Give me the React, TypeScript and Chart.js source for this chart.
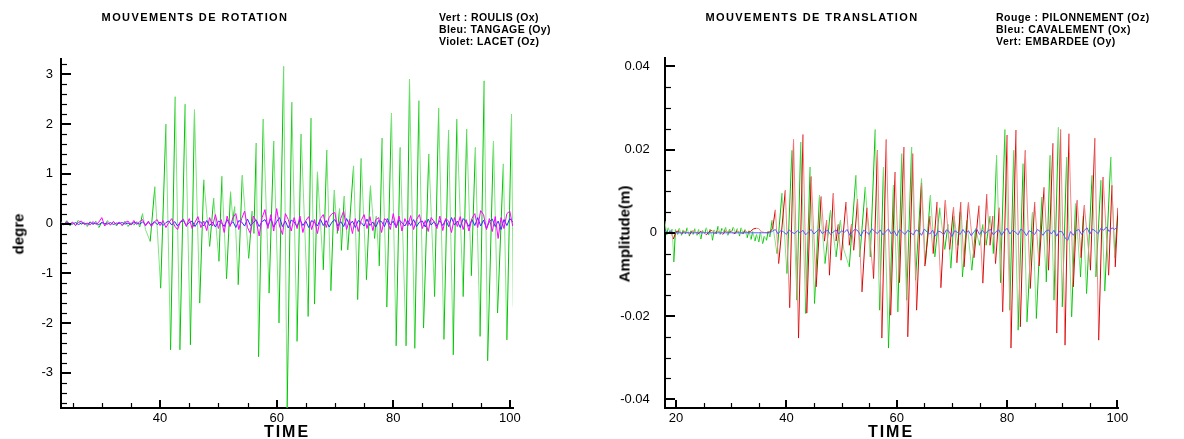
import React, { useEffect, useRef } from 'react';
import { Chart, registerables } from 'chart.js';

Chart.register(...registerables);

// ---------------- LEFT PANEL: MOUVEMENTS DE ROTATION ----------------
const rotXMajor = [40, 60, 80, 100];
const rotXMinor = [25, 30, 35, 45, 50, 55, 65, 70, 75, 85, 90, 95];
const rotYMajor = [-3, -2, -1, 0, 1, 2, 3];
const rotYMinor = [-3.6, -3.4, -3.2, -2.8, -2.6, -2.4, -2.2, -1.8, -1.6, -1.4, -1.2, -0.8, -0.6, -0.4, -0.2,
  0.2, 0.4, 0.6, 0.8, 1.2, 1.4, 1.6, 1.8, 2.2, 2.4, 2.6, 2.8, 3.2];

// Vert : ROULIS (Ox)
const roulisT = [23, 23.5, 24, 24.5, 25, 25.5, 26, 26.5, 27, 27.5, 28, 28.5, 29, 29.5, 30, 30.5, 31, 31.5, 32, 32.5,
  33, 33.5, 34, 34.5, 35, 35.5, 36, 36.5, 37, 37.5,
  38.3, 39.1, 40.1, 41.0, 41.8, 42.6, 43.4, 44.3, 45.2, 45.9, 46.8, 47.5, 48.5, 49.2, 50.1, 50.6, 51.4, 52.1, 52.5, 52.8,
  53.4, 54.1, 55.2, 55.8, 56.1, 56.5, 56.9, 57.7, 58.7, 59.5, 60.4, 61.2, 61.8, 62.6, 63.5, 64.2, 65.4, 65.9, 66.5, 67.0,
  68.0, 68.6, 69.3, 69.9, 70.4, 70.8, 71.1, 71.6, 72.2, 73.2, 73.9, 74.5, 75.4, 76.1, 76.8, 77.1, 77.6, 78.1, 78.9, 79.7,
  80.5, 81.2, 82.2, 82.8, 83.7, 84.4, 85.2, 86.1, 87.1, 87.8, 88.7, 89.5, 90.3, 90.9, 92.0, 92.6, 93.4, 94.1, 94.9, 95.6,
  96.2, 97.2, 97.9, 98.9, 99.5, 100.3, 100.6];
const roulisV = [0.04, -0.03, 0.06, -0.05, 0.02, -0.04, 0.07, -0.02, 0.03, -0.06, 0.04, -0.02, 0.05, -0.08, 0.03, -0.03, 0.06, -0.02, 0.04, -0.05,
  0.03, -0.04, 0.05, -0.06, 0.02, -0.03, 0.04, -0.07, 0.2, -0.12,
  -0.36, 0.74, -1.3, 2.0, -2.54, 2.55, -2.54, 2.4, -2.44, 2.29, -1.6, 0.88, -0.46, 0.51, -0.76, 0.95, -1.11, 0.64, 0.05, 0.34,
  -1.23, 0.97, -0.7, 0.25, -0.2, 1.62, -2.68, 2.1, -1.4, 1.66, -2.0, 3.16, -3.75, 2.44, -2.37, 1.8, -1.87, 2.12, -1.62, 1.04,
  -0.93, 1.48, -1.35, 0.67, -0.2, 0.3, -0.54, 0.55, -0.53, 1.16, -1.53, 1.31, -1.13, 0.76, -0.3, 0.15, -0.85, 1.72, -1.68, 2.22,
  -2.46, 1.53, -2.46, 2.9, -2.51, 2.47, -2.1, 1.4, -1.47, 2.32, -2.33, 1.88, -2.64, 2.1, -1.47, 1.9, -1.05, 1.53, -2.27, 2.87,
  -2.76, 1.66, -1.8, 1.2, -2.34, 2.2, -1.67];

// Bleu: TANGAGE (Oy) and Violet: LACET (Oz), sampled every half second
const rotNoiseT = [23, 23.5, 24, 24.5, 25, 25.5, 26, 26.5, 27, 27.5,
  28, 28.5, 29, 29.5, 30, 30.5, 31, 31.5, 32, 32.5,
  33, 33.5, 34, 34.5, 35, 35.5, 36, 36.5, 37, 37.5,
  38, 38.5, 39, 39.5, 40, 40.5, 41, 41.5, 42, 42.5,
  43, 43.5, 44, 44.5, 45, 45.5, 46, 46.5, 47, 47.5,
  48, 48.5, 49, 49.5, 50, 50.5, 51, 51.5, 52, 52.5,
  53, 53.5, 54, 54.5, 55, 55.5, 56, 56.5, 57, 57.5,
  58, 58.5, 59, 59.5, 60, 60.5, 61, 61.5, 62, 62.5,
  63, 63.5, 64, 64.5, 65, 65.5, 66, 66.5, 67, 67.5,
  68, 68.5, 69, 69.5, 70, 70.5, 71, 71.5, 72, 72.5,
  73, 73.5, 74, 74.5, 75, 75.5, 76, 76.5, 77, 77.5,
  78, 78.5, 79, 79.5, 80, 80.5, 81, 81.5, 82, 82.5,
  83, 83.5, 84, 84.5, 85, 85.5, 86, 86.5, 87, 87.5,
  88, 88.5, 89, 89.5, 90, 90.5, 91, 91.5, 92, 92.5,
  93, 93.5, 94, 94.5, 95, 95.5, 96, 96.5, 97, 97.5,
  98, 98.5, 99, 99.5, 100, 100.5];
const tangageV = [0.01, -0.02, 0.02, 0.0, -0.01, 0.02, -0.02, 0.01, 0.0, -0.01,
  0.02, -0.01, 0.01, -0.02, 0.02, 0.0, -0.01, 0.02, -0.02, 0.01,
  0.0, 0.02, -0.01, 0.01, -0.02, 0.02, 0.01, -0.01, 0.03, -0.02,
  0.02, -0.03, 0.04, -0.02, 0.03, -0.04, 0.02, 0.05, -0.03, 0.04,
  -0.05, 0.03, 0.06, -0.04, 0.02, 0.05, -0.06, 0.04, 0.03, -0.05,
  0.06, -0.04, 0.03, -0.07, 0.05, 0.02, -0.06, 0.08, -0.03, 0.04,
  -0.08, 0.06, 0.03, -0.05, 0.09, -0.04, 0.02, 0.07, -0.06, 0.04,
  0.08, -0.05, 0.1, -0.07, 0.04, 0.12, -0.06, 0.05, -0.09, 0.07,
  0.03, -0.06, 0.08, -0.04, 0.05, -0.08, 0.06, 0.02, -0.05, 0.09,
  -0.04, 0.06, -0.07, 0.03, 0.08, -0.05, 0.04, -0.06, 0.1, -0.03,
  0.05, -0.08, 0.06, 0.02, -0.05, 0.09, -0.04, 0.03, -0.07, 0.06,
  0.04, -0.06, 0.1, -0.03, 0.05, -0.08, 0.07, 0.02, -0.05, 0.06,
  -0.04, 0.08, -0.06, 0.03, 0.05, -0.07, 0.09, -0.03, 0.04, -0.05,
  0.06, -0.04, 0.08, -0.06, 0.12, -0.03, 0.05, -0.08, 0.1, 0.04,
  -0.06, 0.08, -0.04, 0.12, -0.05, 0.07, -0.1, 0.04, 0.09, -0.06,
  0.05, -0.12, 0.08, -0.04, 0.1, 0.03];
const lacetV = [0.02, -0.03, 0.04, -0.01, 0.03, -0.04, 0.02, 0.05, -0.02, 0.01,
  -0.03, 0.04, -0.02, 0.03, 0.12, -0.05, 0.02, -0.03, 0.04, -0.02,
  0.03, -0.04, 0.02, 0.05, -0.03, 0.06, -0.02, 0.04, 0.08, -0.05,
  0.05, -0.06, 0.03, 0.08, -0.04, 0.06, -0.08, 0.02, 0.1, -0.05,
  -0.12, 0.04, 0.09, -0.06, 0.1, -0.1, 0.03, 0.14, -0.08, 0.05,
  -0.14, 0.12, -0.05, 0.18, -0.1, 0.08, -0.18, 0.15, -0.06, 0.12,
  0.2, -0.12, 0.1, 0.25, -0.08, -0.2, 0.15, 0.05, -0.25, 0.12,
  0.28, -0.1, 0.18, -0.15, 0.3, -0.05, -0.22, 0.2, 0.08, -0.15,
  0.12, -0.1, 0.15, -0.18, 0.06, 0.14, -0.12, 0.08, -0.2, 0.1,
  0.18, -0.08, 0.12, 0.2, 0.22, -0.15, 0.1, 0.25, -0.12, 0.08,
  -0.2, 0.1, -0.16, 0.06, 0.18, -0.1, 0.14, -0.14, 0.08, 0.12,
  -0.18, 0.1, 0.05, -0.12, 0.2, -0.08, 0.15, -0.15, 0.1, -0.05,
  0.16, -0.12, 0.08, 0.18, -0.1, 0.06, -0.16, 0.12, 0.04, -0.1,
  0.15, -0.14, 0.1, 0.05, -0.18, 0.12, -0.06, 0.14, -0.12, 0.08,
  -0.15, 0.1, 0.2, -0.08, 0.26, 0.18, -0.12, 0.1, -0.16, 0.14,
  -0.3, 0.12, -0.1, 0.2, 0.25, -0.05];

// ---------------- RIGHT PANEL: MOUVEMENTS DE TRANSLATION ----------------
const traXMajor = [20, 40, 60, 80, 100];
const traXMinor = [25, 30, 35, 45, 50, 55, 65, 70, 75, 85, 90, 95];
const traYMajor = [-0.04, -0.02, 0, 0.02, 0.04];
const traYMinor = [-0.035, -0.03, -0.025, -0.015, -0.01, -0.005, 0.005, 0.01, 0.015, 0.025, 0.03, 0.035];

// Rouge : PILONNEMENT (Oz)
const pilonT = [18, 18.5, 19, 19.5, 20, 20.5, 21, 21.5, 22, 22.5, 23, 23.5, 24, 24.5, 25, 25.5, 26, 26.5, 27, 27.5,
  28, 28.5, 29, 29.5, 30, 30.5, 31, 31.5, 32, 32.5, 33, 33.5, 34, 34.5, 35, 35.5, 36, 36.5, 37, 37.5,
  38.0, 38.6, 39.8, 40.6, 41.3, 42.2, 43.0, 43.7, 44.5, 45.4, 46.3, 46.9, 47.3, 47.8, 48.5, 49.0, 49.4, 49.9, 50.8, 51.4,
  51.8, 52.2, 52.9, 53.7, 54.6, 55.8, 56.5, 57.3, 58.1, 58.9, 59.7, 60.5, 61.3, 62.0, 62.9, 63.6, 64.5, 65.1, 66.0, 66.6,
  67.3, 68.0, 68.8, 69.6, 70.3, 70.9, 71.6, 72.2, 73.0, 74.0, 74.9, 75.6, 76.3, 76.9, 77.4, 77.9, 78.6, 79.2, 80.0, 80.7,
  81.6, 82.4, 83.3, 84.2, 85.0, 85.8, 86.7, 87.5, 88.3, 89.0, 89.7, 90.5, 91.2, 92.0, 92.7, 93.4, 94.0, 95.1, 95.9, 96.6,
  97.4, 98.4, 99.0, 99.6, 100.1];
const pilonV = [0.0003, -0.0002, 0.0004, -0.0015, 0.0002, 0.0005, -0.0003, 0.0004, 0.0001, -0.0004, 0.0005, 0.0002, -0.0003, 0.0004, 0.0001, -0.0005, 0.0003, 0.0006, -0.0002, 0.0004,
  0.0002, -0.0004, 0.0005, 0.0001, 0.0003, -0.0003, 0.0004, 0.0002, -0.0002, 0.0005, 0.0001, 0.0003, 0.0009, 0.0011, 0.001, 0.0002, 0.0001, 0.0, 0.0002, 0.001,
  0.0055, -0.0074, 0.0102, -0.018, 0.0224, -0.0253, 0.0236, -0.0193, 0.0135, -0.013, 0.0087, -0.002, 0.003, -0.0102, 0.0095, -0.002, 0.002, -0.0066, 0.0074, -0.003,
  0.002, -0.0042, 0.008, -0.0142, 0.006, -0.011, 0.0198, -0.0253, 0.0224, -0.0198, 0.0146, -0.012, 0.0206, -0.025, 0.019, -0.0186, 0.0118, -0.008, 0.004, -0.005,
  0.0074, -0.0132, 0.0078, -0.004, 0.0062, -0.0072, 0.0074, -0.0082, 0.0074, -0.006, 0.0065, -0.0121, 0.0093, -0.003, 0.004, -0.0074, 0.006, -0.019, 0.0235, -0.0277,
  0.0247, -0.0226, 0.0198, -0.0134, 0.0074, -0.008, 0.0109, -0.009, 0.0215, -0.0241, 0.0248, -0.027, 0.0238, -0.013, 0.0078, -0.006, 0.0066, -0.009, 0.0227, -0.0258,
  0.0134, -0.0102, 0.0114, -0.0082, 0.006];

// Vert: EMBARDEE (Oy)
const embarT = [18.0, 18.3, 18.6, 19.0, 19.3, 19.6, 19.9, 20.3, 20.6, 21.0, 21.3, 21.7, 22.0, 22.4, 22.7, 23.1, 23.4, 23.8, 24.1, 24.5,
  24.8, 25.2, 25.5, 25.9, 26.2, 26.6, 26.9, 27.3, 27.6, 28.0, 28.3, 28.7, 29.0, 29.4, 29.7, 30.1, 30.4, 30.8, 31.1, 31.5,
  31.8, 32.2, 32.5, 32.9, 33.2, 33.6, 33.9, 34.3, 34.6, 35.0, 35.3, 35.7, 36.0, 36.4, 36.7, 37.0,
  37.4, 38.3, 39.2, 40.1, 41.0, 41.9, 42.6, 43.5, 44.3, 45.1, 46.0, 47.0, 48.0, 49.0, 49.8, 50.4, 51.4, 52.6, 53.3, 54.3,
  55.2, 56.1, 56.9, 57.6, 58.5, 59.4, 60.2, 60.9, 61.8, 62.7, 63.4, 64.5, 65.2, 66.1, 66.9, 67.8, 68.7, 69.3, 69.8, 70.4,
  71.1, 71.5, 71.9, 72.7, 73.6, 74.3, 75.0, 75.6, 76.2, 76.9, 77.5, 78.1, 78.8, 79.6, 80.5, 81.2, 82.0, 82.9, 83.6, 84.6,
  85.3, 86.3, 87.1, 87.8, 88.5, 89.3, 90.0, 90.8, 91.7, 92.4, 93.3, 93.8, 94.4, 95.4, 96.1, 97.0, 97.7, 98.8, 99.5, 100.0];
const embarV = [0.0028, -0.0005, 0.0012, -0.0002, 0.0009, -0.007, 0.0008, -0.0004, 0.0011, -0.0006, 0.0007, -0.0003, 0.0012, -0.0008, 0.0005, -0.0004, 0.001, -0.0006, 0.0008, -0.0015,
  0.0006, -0.0002, 0.0012, -0.0005, 0.0009, -0.0018, 0.0007, -0.0003, 0.0016, -0.0004, 0.0011, 0.0002, 0.0013, -0.0006, 0.0009, 0.0003, 0.0014, -0.0002, 0.001, -0.0008,
  0.0012, -0.0003, 0.0008, -0.0012, 0.0005, -0.0016, 0.0003, -0.002, -0.0004, -0.0022, 0.0002, -0.0026, -0.0008, -0.0018, 0.0004, -0.001,
  0.003, -0.005, 0.0095, -0.0098, 0.0198, -0.0162, 0.0218, -0.0194, 0.0158, -0.017, 0.009, -0.0074, 0.0054, -0.0058, 0.003, -0.004, -0.0082, 0.0138, -0.0058, 0.011,
  -0.0058, 0.0248, -0.0186, 0.0158, -0.0277, 0.0114, -0.019, 0.019, -0.0162, 0.0206, -0.0114, 0.013, -0.0074, 0.009, -0.0058, 0.006, -0.004, 0.002, -0.0085, 0.004,
  -0.003, 0.005, -0.0106, 0.003, -0.009, 0.001, -0.003, 0.002, -0.003, 0.004, -0.005, 0.0186, -0.012, 0.0248, -0.0186, 0.0198, -0.0234, 0.0166, -0.0214, 0.005,
  -0.0206, 0.0086, -0.0118, 0.0186, -0.0162, 0.0253, -0.0178, 0.0182, -0.0202, 0.007, -0.0106, 0.004, -0.0146, 0.0138, -0.0106, 0.0126, -0.014, 0.0182, -0.006, 0.004];

// Bleu: CAVALEMENT (Ox), sampled every half second
const cavalT = [18, 18.5, 19, 19.5, 20, 20.5, 21, 21.5, 22, 22.5,
  23, 23.5, 24, 24.5, 25, 25.5, 26, 26.5, 27, 27.5,
  28, 28.5, 29, 29.5, 30, 30.5, 31, 31.5, 32, 32.5,
  33, 33.5, 34, 34.5, 35, 35.5, 36, 36.5, 37, 37.5,
  38, 38.5, 39, 39.5, 40, 40.5, 41, 41.5, 42, 42.5,
  43, 43.5, 44, 44.5, 45, 45.5, 46, 46.5, 47, 47.5,
  48, 48.5, 49, 49.5, 50, 50.5, 51, 51.5, 52, 52.5,
  53, 53.5, 54, 54.5, 55, 55.5, 56, 56.5, 57, 57.5,
  58, 58.5, 59, 59.5, 60, 60.5, 61, 61.5, 62, 62.5,
  63, 63.5, 64, 64.5, 65, 65.5, 66, 66.5, 67, 67.5,
  68, 68.5, 69, 69.5, 70, 70.5, 71, 71.5, 72, 72.5,
  73, 73.5, 74, 74.5, 75, 75.5, 76, 76.5, 77, 77.5,
  78, 78.5, 79, 79.5, 80, 80.5, 81, 81.5, 82, 82.5,
  83, 83.5, 84, 84.5, 85, 85.5, 86, 86.5, 87, 87.5,
  88, 88.5, 89, 89.5, 90, 90.5, 91, 91.5, 92, 92.5,
  93, 93.5, 94, 94.5, 95, 95.5, 96, 96.5, 97, 97.5,
  98, 98.5, 99, 99.5, 100];
const cavalV = [0.0005, 0, 0.0004, 0, 0, 0, 0, 0, 0, 0,
  0, 0, 0, 0, 0, 0, 0, 0, 0, 0,
  0, 0, 0, 0, 0, 0, 0, 0, 0, 0,
  0, 0, 0, 0, 0, 0, 0, 0, 0, 0.0004,
  0.0008, -0.0003, 0.0006, 0.0002, -0.0004, 0.0007, 0.0001, -0.0002, 0.0005, 0,
  0.0006, -0.0005, 0.0002, 0.0008, -0.0003, 0.0004, 0.0009, -0.0002, 0.0003, 0.0006,
  -0.0004, 0.0002, 0.0007, -0.0003, 0.0005, 0.0001, 0.0008, -0.0006, 0.0003, 0.0009,
  0.0004, -0.0008, 0.0006, 0.0002, -0.0004, 0.001, 0.0003, -0.0002, 0.0007, -0.0005,
  0.0003, 0.0009, -0.0003, 0.0005, -0.0007, 0.0008, 0.0002, -0.0004, 0.0006, 0.0001,
  -0.0005, 0.0007, 0.0003, -0.0006, 0.0009, 0.0002, -0.0003, 0.0006, -0.0008, 0.0004,
  0.0002, -0.0005, 0.0007, 0.0003, -0.0009, 0.0005, 0.0001, -0.0004, 0.0008, -0.0002,
  0.0005, -0.0007, 0.0003, 0.0009, -0.0004, 0.0006, -0.0002, 0.0004, 0.0008, -0.0005,
  0.0003, 0.0007, -0.0006, 0.0004, 0.0011, -0.0003, 0.0006, 0.0002, -0.0005, 0.0009,
  0.0004, -0.0007, 0.0005, 0.0001, -0.0004, 0.0008, 0.0003, -0.0006, 0.0004, 0.0007,
  -0.0003, 0.0006, -0.0008, 0.0004, 0.0002, -0.0012, -0.0018, 0.0003, -0.0006, 0.0005,
  0.0008, -0.0004, 0.0006, 0.0012, -0.0003, 0.0009, 0.0004, -0.0002, 0.0011, 0.0006,
  0.0014, 0.0003, 0.0012, 0.0008, 0.0015];

// ---------------- helpers ----------------
const pts = (t: number[], v: number[]) => {
  const n = Math.min(t.length, v.length);
  const out: { x: number; y: number }[] = [];
  for (let i = 0; i < n; i++) out.push({ x: t[i], y: v[i] });
  return out;
};

const FONT = "'Liberation Sans', Arial, Helvetica, sans-serif";

const insideTicks = {
  id: 'insideTicks',
  afterDatasetsDraw(chart: any, _args: any, opts: any) {
    const { ctx, chartArea: a, scales } = chart;
    ctx.save();
    ctx.strokeStyle = '#000';
    const seg = (x1: number, y1: number, x2: number, y2: number, w: number) => {
      ctx.lineWidth = w;
      ctx.beginPath();
      ctx.moveTo(x1, y1);
      ctx.lineTo(x2, y2);
      ctx.stroke();
    };
    for (const v of opts.yMajor) {
      const p = Math.round(scales.y.getPixelForValue(v));
      seg(a.left, p, a.left + 10, p, 2);
    }
    for (const v of opts.yMinor) {
      const p = Math.round(scales.y.getPixelForValue(v)) + 0.5;
      seg(a.left, p, a.left + 6, p, 1.2);
    }
    for (const v of opts.xMajor) {
      const p = Math.round(scales.x.getPixelForValue(v));
      seg(p, a.bottom, p, a.bottom - 8, 2);
    }
    for (const v of opts.xMinor) {
      const p = Math.round(scales.x.getPixelForValue(v)) + 0.5;
      seg(p, a.bottom, p, a.bottom - 5, 1.2);
    }
    ctx.restore();
  },
};

const twoTone = (dark: string, light: string) => ({
  borderColor: (c: any) => (c.p1.parsed.y >= c.p0.parsed.y ? dark : light),
});

function makeConfig(p: {
  datasets: any[];
  xMin: number; xMax: number; yMin: number; yMax: number;
  xMajor: number[]; xMinor: number[]; yMajor: number[]; yMinor: number[];
  yWidth: number; rightPad: number; topPad: number;
  yLabel: (v: number) => string;
}) {
  const tickFont = { family: FONT, size: 13 };
  return {
    type: 'line',
    data: { datasets: p.datasets },
    options: {
      animation: false,
      responsive: false,
      parsing: true,
      events: [],
      layout: { padding: { left: 0, right: p.rightPad, top: p.topPad, bottom: 0 } },
      plugins: {
        legend: { display: false },
        tooltip: { enabled: false },
        title: { display: false },
        insideTicks: { xMajor: p.xMajor, xMinor: p.xMinor, yMajor: p.yMajor, yMinor: p.yMinor },
      },
      elements: { point: { radius: 0 }, line: { borderWidth: 1, tension: 0 } },
      scales: {
        x: {
          type: 'linear',
          min: p.xMin,
          max: p.xMax,
          grid: { display: true, drawOnChartArea: false, drawTicks: false },
          border: { display: true, color: '#000', width: 2 },
          ticks: { font: tickFont, color: '#000', padding: 3, autoSkip: false, maxRotation: 0, callback: (v: any) => String(v) },
          afterBuildTicks: (s: any) => { s.ticks = p.xMajor.map((v) => ({ value: v })); },
          afterFit: (s: any) => { s.height = 31; },
        },
        y: {
          type: 'linear',
          min: p.yMin,
          max: p.yMax,
          grid: { display: true, drawOnChartArea: false, drawTicks: false },
          border: { display: true, color: '#000', width: 2 },
          ticks: { font: tickFont, color: '#000', padding: 8, autoSkip: false, callback: (v: any) => p.yLabel(v) },
          afterBuildTicks: (s: any) => { s.ticks = p.yMajor.map((v) => ({ value: v })); },
          afterFit: (s: any) => { s.width = p.yWidth; },
        },
      },
    },
    plugins: [insideTicks],
  } as any;
}

function ChartCanvas({ config, width, height, left }: { config: any; width: number; height: number; left: number }) {
  const ref = useRef<HTMLCanvasElement | null>(null);
  useEffect(() => {
    if (!ref.current) return;
    const chart = new Chart(ref.current, config);
    return () => chart.destroy();
  }, []);
  return (
    <canvas
      ref={ref}
      width={width}
      height={height}
      style={{ position: 'absolute', left, top: 0, width, height }}
    />
  );
}

const rotConfig = makeConfig({
  datasets: [
    { label: 'Violet: LACET (Oz)', data: pts(rotNoiseT, lacetV), borderColor: '#ff00ff', borderWidth: 1, order: 1 },
    { label: 'Bleu: TANGAGE (Oy)', data: pts(rotNoiseT, tangageV), borderColor: '#2f2fff', borderWidth: 1, order: 2 },
    { label: 'Vert : ROULIS (Ox)', data: pts(roulisT, roulisV), borderColor: '#00c800', borderWidth: 1, order: 3,
      segment: twoTone('#00c400', '#86e486') },
  ],
  xMin: 23, xMax: 100.55, yMin: -3.71, yMax: 3.31,
  xMajor: rotXMajor, xMinor: rotXMinor, yMajor: rotYMajor, yMinor: rotYMinor,
  yWidth: 61, rightPad: 575 - 513, topPad: 59,
  yLabel: (v) => String(v),
});

const traConfig = makeConfig({
  datasets: [
    { label: 'Bleu: CAVALEMENT (Ox)', data: pts(cavalT, cavalV), borderColor: '#5a5aff', borderWidth: 1, order: 1 },
    { label: 'Rouge : PILONNEMENT (Oz)', data: pts(pilonT, pilonV), borderColor: '#dd0000', borderWidth: 1, order: 2,
      segment: twoTone('#d80000', '#f08a8a') },
    { label: 'Vert: EMBARDEE (Oy)', data: pts(embarT, embarV), borderColor: '#00c800', borderWidth: 1, order: 3,
      segment: twoTone('#00c400', '#86e486') },
  ],
  xMin: 18, xMax: 100.1, yMin: -0.0421, yMax: 0.042,
  xMajor: traXMajor, xMinor: traXMinor, yMajor: traYMajor, yMinor: traYMinor,
  yWidth: 90, rightPad: 609 - 543, topPad: 58,
  yLabel: (v) => (v === 0 ? '0' : v.toFixed(2) + '\u2007'),
});

const txt = (extra: React.CSSProperties): React.CSSProperties => ({
  position: 'absolute',
  fontFamily: FONT,
  fontWeight: 'bold',
  color: '#000',
  whiteSpace: 'nowrap',
  ...extra,
});

export default function App() {
  return (
    <div style={{ position: 'fixed', left: 0, top: 0, width: 1184, height: 439, background: '#fff', overflow: 'hidden' }}>
      <ChartCanvas config={rotConfig} width={575} height={439} left={0} />
      <ChartCanvas config={traConfig} width={609} height={439} left={575} />

      <div style={txt({ left: 195, top: 17, transform: 'translate(-50%, -50%)', fontSize: 11, letterSpacing: '1.4px' })}>
        MOUVEMENTS DE ROTATION
      </div>
      <div style={txt({ left: 439, top: 11, fontSize: 10.5, lineHeight: '12px', letterSpacing: '0.4px' })}>
        <div>Vert : ROULIS (Ox)</div>
        <div>Bleu: TANGAGE (Oy)</div>
        <div>Violet: LACET (Oz)</div>
      </div>
      <div style={txt({ left: 18, top: 234, transform: 'translate(-50%, -50%) rotate(-90deg)', fontSize: 15 })}>degre</div>
      <div style={txt({ left: 287, top: 432, transform: 'translate(-50%, -50%)', fontSize: 16, letterSpacing: '2px' })}>TIME</div>

      <div style={txt({ left: 812, top: 17, transform: 'translate(-50%, -50%)', fontSize: 11, letterSpacing: '1.4px' })}>
        MOUVEMENTS DE TRANSLATION
      </div>
      <div style={txt({ left: 996, top: 11, fontSize: 10.5, lineHeight: '12px', letterSpacing: '0.5px' })}>
        <div>Rouge : PILONNEMENT (Oz)</div>
        <div>Bleu: CAVALEMENT (Ox)</div>
        <div>Vert: EMBARDEE (Oy)</div>
      </div>
      <div style={txt({ left: 624, top: 234, transform: 'translate(-50%, -50%) rotate(-90deg)', fontSize: 15 })}>Amplitude(m)</div>
      <div style={txt({ left: 891, top: 432, transform: 'translate(-50%, -50%)', fontSize: 16, letterSpacing: '2px' })}>TIME</div>
    </div>
  );
}
